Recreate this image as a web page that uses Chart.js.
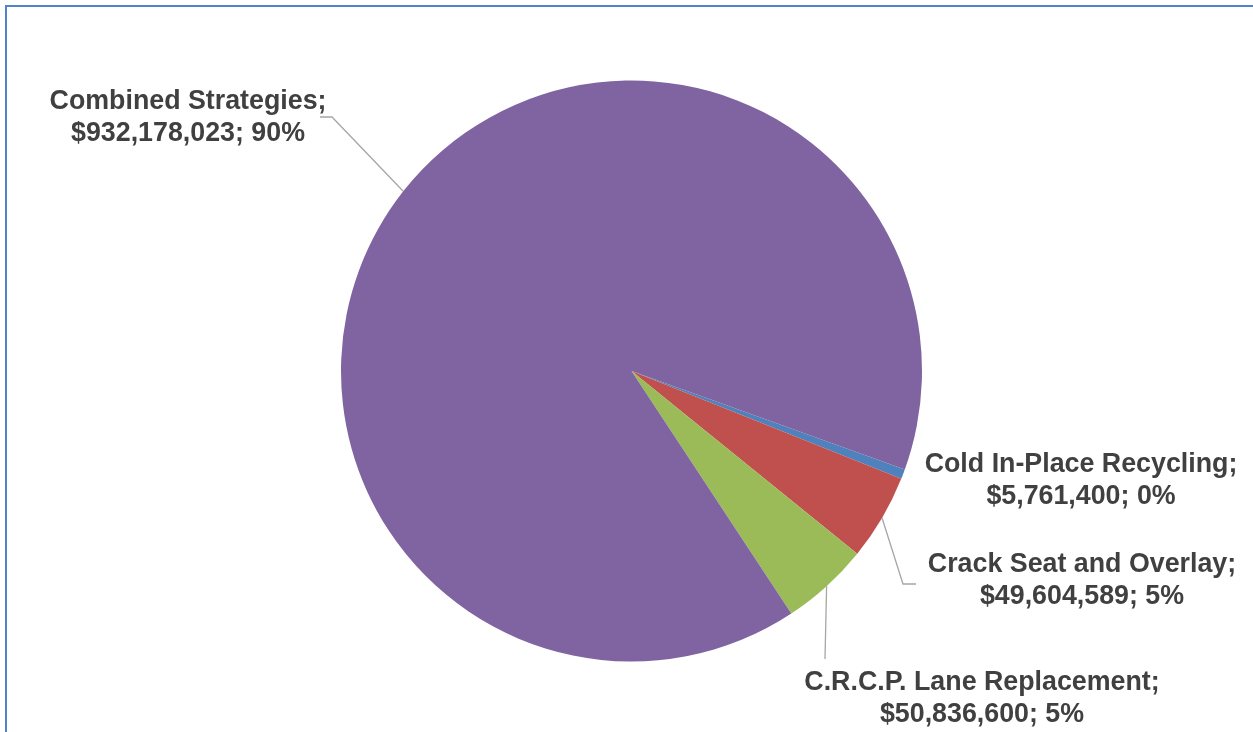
<!DOCTYPE html>
<html>
<head>
<meta charset="utf-8">
<script src="https://cdn.jsdelivr.net/npm/chart.js@4"></script>
<style>
  html, body { margin: 0; padding: 0; background: #ffffff; }
  #wrap { position: relative; width: 1253px; height: 732px; overflow: hidden; }
  #frame {
    position: absolute; left: 5px; top: 5px; width: 1300px; height: 800px;
    border-top: 2px solid #4F84CC; border-left: 2px solid #4F84CC;
    pointer-events: none;
  }
  canvas { position: absolute; left: 0; top: 0; }
</style>
</head>
<body>
<div id="wrap">
  <canvas id="pie" width="1253" height="732"></canvas>
  <div id="frame"></div>
</div>
<script>
// --- chart data ---
const categories = ['Cold In-Place Recycling', 'Crack Seat and Overlay', 'C.R.C.P. Lane Replacement', 'Combined Strategies'];
const costs = [5761400, 49604589, 50836600, 932178023];
const shareLabels = ['0%', '5%', '5%', '90%'];
const sliceColors = ['#4F81BD', '#C0504D', '#9BBB59', '#8064A2'];

// label placement, offsets from pie centre (px)
const labelSpots = [
    { dx: 449.5, dy: 109.5, leader: null },
    { dx: 450.5, dy: 209.5, leader: [[271.5, 213], [284.5, 213]] },
    { dx: 350.5, dy: 327.5, leader: [[193.5, 288]] },
    { dx: -443.5, dy: -253, leader: [[-299.5, -254], [-311.5, -254]] }
];

function money(v) {
    return '$' + v.toLocaleString('en-US');
}

const sliceLabels = {
    id: 'sliceLabels',
    afterDatasetsDraw(chart) {
        const ctx = chart.ctx;
        const meta = chart.getDatasetMeta(0);
        ctx.save();
        meta.data.forEach((arc, i) => {
            const p = arc.getProps(['x', 'y', 'outerRadius', 'startAngle', 'endAngle'], true);
            const mid = (p.startAngle + p.endAngle) / 2;
            const ex = p.x + Math.cos(mid) * p.outerRadius;
            const ey = p.y + Math.sin(mid) * p.outerRadius;
            const spot = labelSpots[i];

            // leader line from the slice edge
            if (spot.leader) {
                ctx.strokeStyle = '#A6A6A6';
                ctx.lineWidth = 1.3;
                ctx.beginPath();
                ctx.moveTo(ex, ey);
                spot.leader.forEach(pt => ctx.lineTo(p.x + pt[0], p.y + pt[1]));
                ctx.stroke();
            }

            // two-line label
            ctx.fillStyle = '#404040';
            ctx.font = 'bold 26.8px "Liberation Sans", Arial, sans-serif';
            ctx.textAlign = 'center';
            ctx.textBaseline = 'middle';
            const cx = p.x + spot.dx;
            const cy = p.y + spot.dy;
            ctx.fillText(categories[i] + ';', cx, cy - 16);
            ctx.fillText(money(costs[i]) + '; ' + shareLabels[i], cx, cy + 16);
        });
        ctx.restore();
    }
};

new Chart(document.getElementById('pie'), {
    type: 'pie',
    data: {
        labels: categories,
        datasets: [{
            data: costs,
            backgroundColor: sliceColors,
            borderWidth: 0
        }]
    },
    options: {
        responsive: false,
        animation: false,
        devicePixelRatio: 1,
        rotation: 109.8,
        layout: {
            padding: { left: 341, right: 331, top: 80, bottom: 70 }
        },
        plugins: {
            legend: { display: false },
            tooltip: { enabled: false }
        }
    },
    plugins: [sliceLabels]
});
</script>
</body>
</html>
